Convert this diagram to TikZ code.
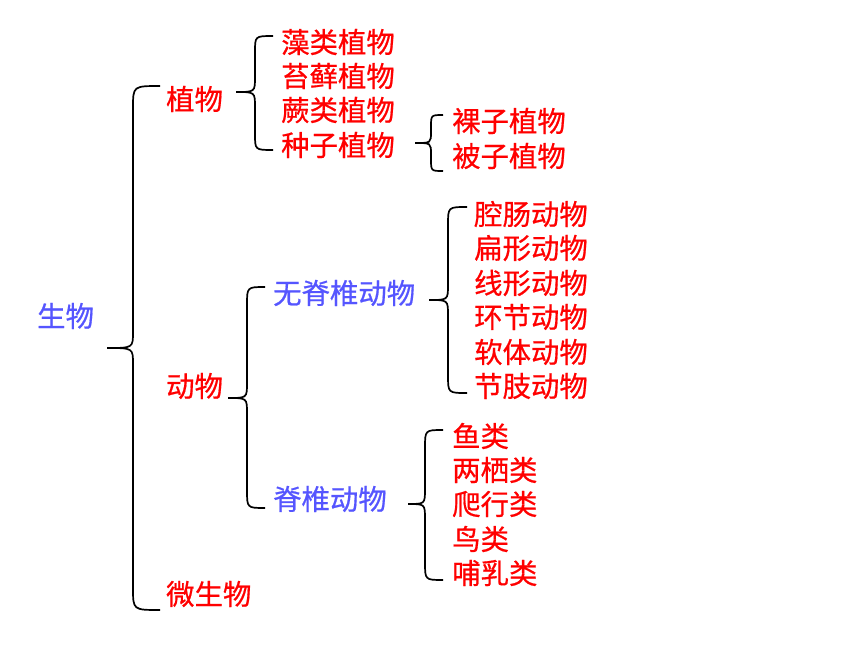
\documentclass[tikz,border=0pt]{standalone}
\usepackage{fontspec}
\setmainfont{Noto Sans CJK SC}[BoldFont={Noto Sans CJK SC},BoldFeatures={FakeBold=0.6}]
\definecolor{tred}{RGB}{255,0,0}
\definecolor{tblue}{RGB}{85,85,255}
\newcommand{\bracepath}[8]{% xe xl xt ytop ytip ybot rend rtip
  \draw[bracestyle] (#1,#4) .. controls (#2,#4) .. (#2,#4+#7) -- (#2,#5-#8)
    .. controls (#2,#5) .. (#3,#5) .. controls (#2,#5) .. (#2,#5+#8)
    -- (#2,#6-#7) .. controls (#2,#6) .. (#1,#6);}
\begin{document}
\begin{tikzpicture}[x=1pt,y=-1pt,
  bracestyle/.style={line width=1.7pt, black},
  lbl/.style={anchor=west, inner sep=0pt, font=\fontsize{28.4}{30}\selectfont\bfseries},
  rl/.style={lbl, text=tred},
  bl/.style={lbl, text=tblue}]
\useasboundingbox (0,0) rectangle (860,645);
% labels
\node[bl] (sw) at (37,316) {生物};
\node[rl] (zw) at (166,99) {植物};
\node[rl] (dw) at (166,386) {动物};
\node[rl] (ws) at (166,594) {微生物};
\node[rl] (z1) at (281,42) {藻类植物};
\node[rl] (z2) at (281,76) {苔藓植物};
\node[rl] (z3) at (281,110) {蕨类植物};
\node[rl] (z4) at (281,145) {种子植物};
\node[rl] (s1) at (452,121) {裸子植物};
\node[rl] (s2) at (452,156) {被子植物};
\node[bl] (wj) at (273,293) {无脊椎动物};
\node[bl] (jz) at (273,499) {脊椎动物};
\node[rl] (a1) at (474,214) {腔肠动物};
\node[rl] (a2) at (474,248) {扁形动物};
\node[rl] (a3) at (474,283) {线形动物};
\node[rl] (a4) at (474,317) {环节动物};
\node[rl] (a5) at (474,352) {软体动物};
\node[rl] (a6) at (474,386) {节肢动物};
\node[rl] (b1) at (452,436) {鱼类};
\node[rl] (b2) at (452,470) {两栖类};
\node[rl] (b3) at (452,504) {爬行类};
\node[rl] (b4) at (452,539) {鸟类};
\node[rl] (b5) at (452,573) {哺乳类};
% braces
\bracepath{160}{133}{107}{86}{348}{610}{22}{16}
\bracepath{273}{255}{236}{36}{92}{150}{16}{15}
\bracepath{443}{431}{415}{115}{143}{171}{12}{11}
\bracepath{265}{247}{228}{287}{398}{508}{18}{15}
\bracepath{467}{448}{429}{207}{300}{393}{18}{15}
\bracepath{443}{425}{408}{430}{504}{580}{18}{15}
\end{tikzpicture}
\end{document}
